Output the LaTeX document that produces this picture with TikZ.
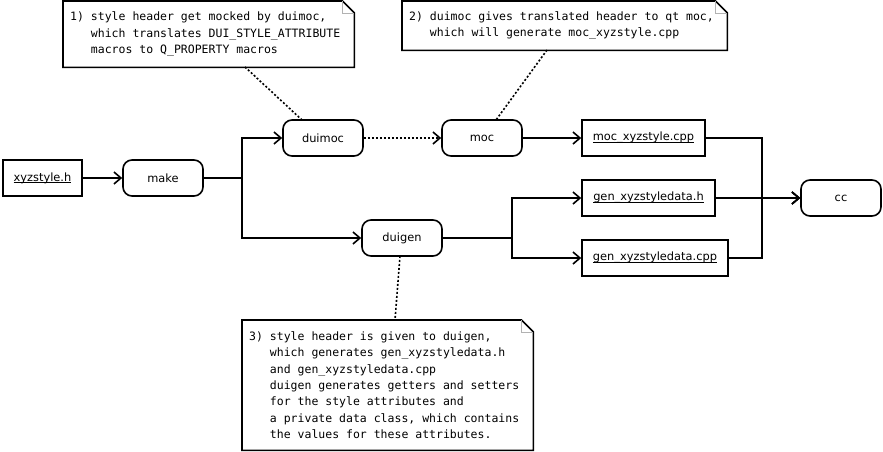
\documentclass[tikz,border=0pt]{standalone}
\usepackage{fontspec}
\setsansfont{DejaVu Sans}
\newfontfamily\notefont{DejaVu Sans Mono}
\usetikzlibrary{arrows.meta}
\newcommand\ind{\hphantom{000}}
\newsavebox\ulbox
\newcommand\ulx[1]{\sbox\ulbox{#1}\rlap{\rule[-2pt]{\wd\ulbox}{0.7pt}}\usebox\ulbox}
\newcommand\fixsp{\spaceskip=0.602em\relax\xspaceskip=0.602em\relax}
\begin{document}
\begin{tikzpicture}[x=1pt,y=-1pt,
  box/.style={draw,line width=1.6pt,minimum height=36pt,inner sep=0pt,
    font=\sffamily\fontsize{11.4}{13}\selectfont},
  file/.style={box,rectangle},
  proc/.style={box,rounded corners=9pt,minimum width=80pt},
  conn/.style={line width=1.6pt,-{Straight Barb[length=7pt,width=12pt,line width=1.6pt]}},
  dotconn/.style={conn,dash pattern=on 2pt off 2pt},
  notelink/.style={line width=1.6pt,dash pattern=on 2pt off 2pt},
  note/.style={anchor=north west,inner xsep=7pt,inner ysep=0pt,align=left,
    font=\notefont\fontsize{11.5}{16.3}\selectfont},
  noteline/.style={line width=1.6pt,line join=miter},
  fold/.style={line width=0.6pt,gray!60}]
\useasboundingbox (0,0) rectangle (883,452);
% nodes
\node[file,minimum width=79pt] (xyz) at (42.5,178) {\ulx{xyzstyle.h}};
\node[proc] (make) at (163,178) {make};
\node[proc] (duimoc) at (323,138) {duimoc};
\node[proc] (moc) at (482,138) {moc};
\node[file,minimum width=123pt] (mocf) at (643.5,138) {\ulx{moc\_xyzstyle.cpp}};
\node[file,minimum width=133pt] (genh) at (648.5,198) {\ulx{gen\_xyzstyledata.h}};
\node[file,minimum width=146pt] (gencpp) at (655,258) {\ulx{gen\_xyzstyledata.cpp}};
\node[proc] (duigen) at (402,238) {duigen};
\node[proc] (cc) at (841,198) {cc};
% notes
\node[note,text width=277pt,minimum height=66pt] (n1) at (63,1)
  {\fixsp 1) style header get mocked by duimoc,\\
   \ind which translates DUI\_STYLE\_ATTRIBUTE\\
   \ind macros to Q\_PROPERTY macros};
\node[note,text width=311pt,minimum height=49pt] (n2) at (402,1)
  {\fixsp 2) duimoc gives translated header to qt moc,\\
   \ind which will generate moc\_xyzstyle.cpp};
\node[note,text width=277pt,minimum height=130pt] (n3) at (242,320)
  {\fixsp 3) style header is given to duigen,\\
   \ind which generates gen\_xyzstyledata.h\\
   \ind and gen\_xyzstyledata.cpp\\
   \ind duigen generates getters and setters\\
   \ind for the style attributes and\\
   \ind a private data class, which contains\\
   \ind the values for these attributes.};
\foreach \n in {n1,n2,n3}{
  \draw[noteline] (\n.north west) -- ([xshift=-12pt]\n.north east)
    -- ([yshift=-12pt]\n.north east) -- (\n.south east) -- (\n.south west) -- cycle;
  \draw[fold] ([xshift=-12pt]\n.north east) -- ([xshift=-12pt,yshift=-12pt]\n.north east)
    -- ([yshift=-12pt]\n.north east);
}
% branch points
\coordinate (b1) at (242,178);
\coordinate (b2) at (512,238);
\coordinate (b3) at (762,198);
% connectors
\draw[conn] (xyz) -- (make);
\draw[conn] (make) -- (b1) |- (duimoc);
\draw[conn] (make) -- (b1) |- (duigen);
\draw[dotconn] (duimoc) -- (moc);
\draw[conn] (moc) -- (mocf);
\draw[conn] (duigen) -- (b2) |- (genh);
\draw[conn] (duigen) -- (b2) |- (gencpp);
\draw[conn] (mocf) -| (b3) -- (cc);
\draw[conn] (genh) -- (cc);
\draw[conn] (gencpp) -| (b3) -- (cc);
% note links
\coordinate (l1a) at (245,67);
\coordinate (l1b) at (302,120);
\coordinate (l2a) at (547,50);
\coordinate (l2b) at (496,120);
\coordinate (l3a) at (400,256);
\coordinate (l3b) at (395,320);
\draw[notelink] (l1a) -- (l1b);
\draw[notelink] (l2a) -- (l2b);
\draw[notelink] (l3a) -- (l3b);
\end{tikzpicture}
\end{document}
